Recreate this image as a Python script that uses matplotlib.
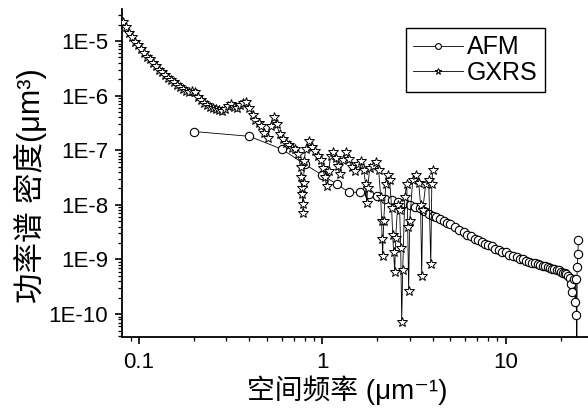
import numpy as np
import matplotlib
matplotlib.use("Agg")
import matplotlib.pyplot as plt
from matplotlib.ticker import FixedLocator, FixedFormatter, LogLocator, NullFormatter

plt.rcParams['font.family'] = ['Liberation Sans', 'DejaVu Sans', 'Noto Sans CJK SC']

# GXRS power spectrum
gxrs_f = [0.0822, 0.0852, 0.0885, 0.0919, 0.0954, 0.0991, 0.1029, 0.1069, 0.1110, 0.1153,
          0.1197, 0.1243, 0.1291, 0.1341, 0.1392, 0.1446, 0.1502, 0.1559, 0.1619, 0.1681,
          0.1746, 0.1813, 0.1883, 0.1956, 0.2031, 0.2109, 0.2190, 0.2274, 0.2361, 0.2452,
          0.2547, 0.2645, 0.2746, 0.2852, 0.2962, 0.3076, 0.3194, 0.3317, 0.3444, 0.3577,
          0.3714, 0.3857, 0.4006, 0.4160, 0.4319, 0.4486, 0.4658, 0.4837, 0.5023, 0.5216,
          0.5417, 0.5626, 0.5842, 0.6067, 0.6300, 0.6543, 0.6794, 0.7056, 0.7328,
          0.761, 0.766, 0.771, 0.776, 0.781, 0.786, 0.791, 0.797,
          0.8106, 0.8418, 0.8742, 0.9078, 0.9426, 0.9788, 1.003, 1.03, 1.056, 1.083,
          1.11, 1.138, 1.182, 1.212, 1.243, 1.291, 1.341, 1.392, 1.446, 1.502,
          1.559, 1.619, 1.681, 1.724, 1.746, 1.77, 1.815, 1.884, 1.957, 2.03,
          2.083, 2.109, 2.12, 2.135, 2.163, 2.22, 2.274, 2.332, 2.39, 2.422,
          2.45, 2.484, 2.515, 2.58, 2.645, 2.68, 2.713, 2.747, 2.82, 2.89,
          2.926, 2.96, 2.999, 3.115, 3.235, 3.359, 3.44, 3.488, 3.53, 3.67,
          3.81, 3.91, 3.96, 4.006]
gxrs_psd = [2.19e-5, 1.82e-5, 1.41e-5, 1.17e-5, 9.5e-6, 8.3e-6, 7.1e-6, 6.0e-6, 5.1e-6, 4.6e-6,
            3.9e-6, 3.5e-6, 3.0e-6, 2.7e-6, 2.4e-6, 2.1e-6, 1.95e-6, 1.74e-6, 1.58e-6, 1.45e-6,
            1.35e-6, 1.2e-6, 1.17e-6, 1.23e-6, 1.15e-6, 9.5e-7, 8.3e-7, 7.2e-7, 6.6e-7, 6.3e-7,
            6.0e-7, 5.75e-7, 5.4e-7, 5.2e-7, 5.75e-7, 6.5e-7, 6.9e-7, 6.3e-7, 6.0e-7, 6.8e-7,
            7.2e-7, 7.6e-7, 6.0e-7, 4.4e-7, 3.6e-7, 3.2e-7, 2.75e-7, 2.1e-7, 1.66e-7, 2.8e-7,
            4.0e-7, 3.0e-7, 2.0e-7, 1.58e-7, 1.38e-7, 1.26e-7, 1.12e-7, 1.05e-7, 8.7e-8,
            5.0e-8, 3.2e-8, 2.0e-8, 1.55e-8, 1.02e-8, 7.2e-9, 2.5e-8, 6.3e-8,
            1.05e-7, 1.45e-7, 1.17e-7, 9.5e-8, 7.9e-8, 6.6e-8, 4.8e-8, 3.3e-8, 2.2e-8, 4.2e-8,
            7.9e-8, 9.1e-8, 7.2e-8, 5.2e-8, 3.6e-8, 6.6e-8, 9.3e-8, 6.9e-8, 5.0e-8, 4.2e-8,
            5.5e-8, 6.3e-8, 4.4e-8, 2.4e-8, 1.1e-8, 2.0e-8, 4.8e-8, 5.2e-8, 6.0e-8, 4.4e-8,
            1.4e-8, 5.0e-9, 2.4e-9, 1.15e-9, 5.0e-9, 2.4e-8, 3.5e-8, 2.8e-8, 8.9e-9, 2.8e-9,
            1.4e-9, 6.0e-10, 2.5e-9, 1.0e-8, 7.9e-9, 1.6e-9, 7.2e-11, 6.3e-10, 1.4e-8, 2.4e-8,
            4.0e-9, 2.6e-10, 5.0e-9, 2.8e-8, 3.5e-8, 2.5e-8, 1.0e-8, 5.0e-10, 7.9e-9, 2.4e-8,
            2.8e-8, 8.3e-10, 2.4e-8, 4.4e-8]

# AFM power spectrum
afm_f = [0.2, 0.4, 0.6, 0.8, 1.0, 1.2, 1.4, 1.6, 1.8, 2.0,
         2.2, 2.4, 2.6, 2.8, 3.0, 3.2, 3.4, 3.6, 3.8, 4.0,
         4.2, 4.4, 4.6, 4.8, 5.0, 5.3, 5.6, 5.9, 6.2, 6.5,
         6.8, 7.1, 7.4, 7.7, 8.0, 8.4, 8.8, 9.2, 9.6, 10.0,
         10.5, 11.0, 11.5, 12.0, 12.5, 13.0, 13.5, 14.0, 14.5, 15.0,
         15.5, 16.0, 16.5, 17.0, 17.5, 18.0, 18.5, 19.0, 19.5, 20.0,
         20.5, 21.0, 21.5, 22.0, 22.4, 22.8, 23.2, 23.6, 24.0, 24.2,
         24.4, 24.5, 24.6, 24.8, 25.0]
afm_psd = [2.2e-7, 1.8e-7, 1.05e-7, 5.6e-8, 3.5e-8, 2.4e-8, 1.7e-8, 1.7e-8, 1.6e-8, 1.45e-8,
           1.3e-8, 1.23e-8, 1.12e-8, 1.07e-8, 1.0e-8, 9.3e-9, 8.7e-9, 7.8e-9, 6.9e-9, 6.3e-9,
           6.0e-9, 5.4e-9, 5.1e-9, 4.7e-9, 4.4e-9, 3.9e-9, 3.5e-9, 3.2e-9, 2.8e-9, 2.7e-9,
           2.4e-9, 2.3e-9, 2.05e-9, 1.95e-9, 1.82e-9, 1.74e-9, 1.58e-9, 1.5e-9, 1.38e-9, 1.35e-9,
           1.23e-9, 1.15e-9, 1.12e-9, 1.02e-9, 1.0e-9, 9.5e-10, 9.1e-10, 8.7e-10, 8.5e-10, 8.1e-10,
           7.9e-10, 7.6e-10, 7.6e-10, 7.2e-10, 7.1e-10, 6.8e-10, 6.8e-10, 6.5e-10, 6.3e-10, 6.0e-10,
           5.75e-10, 5.6e-10, 5.4e-10, 5.0e-10, 4.6e-10, 3.5e-10, 2.5e-10, 4.4e-10, 1.66e-10, 4.4e-10,
           9.5e-11, 1e-12, 7.2e-10, 1.26e-9, 2.3e-9]

x_ticks = [0.1, 1, 10]
x_labels = ['0.1', '1', '10']
y_ticks = [1e-10, 1e-9, 1e-8, 1e-7, 1e-6, 1e-5]
y_labels = ['1E-10', '1E-9', '1E-8', '1E-7', '1E-6', '1E-5']

fig = plt.figure(figsize=(5.88, 4.08), dpi=100)
ax = fig.add_axes([0.2075, 0.1748, 0.7925, 0.8032])

ax.plot(afm_f, afm_psd, color='black', lw=0.6, marker='o', ms=6,
        mfc='white', mec='black', mew=0.8, label='AFM', zorder=2)
ax.plot(gxrs_f, gxrs_psd, color='black', lw=0.6, marker='*', ms=7,
        mfc='white', mec='black', mew=0.7, label='GXRS', zorder=3)

ax.set_xscale('log')
ax.set_yscale('log')
ax.set_xlim(0.0807, 28.2)
ax.set_ylim(3.86e-11, 3.86e-5)

ax.xaxis.set_major_locator(FixedLocator(x_ticks))
ax.xaxis.set_major_formatter(FixedFormatter(x_labels))
ax.yaxis.set_major_locator(FixedLocator(y_ticks))
ax.yaxis.set_major_formatter(FixedFormatter(y_labels))
ax.xaxis.set_minor_locator(LogLocator(base=10, subs=np.arange(2, 10), numticks=20))
ax.yaxis.set_minor_locator(LogLocator(base=10, subs=np.arange(2, 10), numticks=20))
ax.xaxis.set_minor_formatter(NullFormatter())
ax.yaxis.set_minor_formatter(NullFormatter())

for s in ['top', 'right']:
    ax.spines[s].set_visible(False)
for s in ['left', 'bottom']:
    ax.spines[s].set_linewidth(1.3)

ax.tick_params(which='major', direction='out', length=5, width=1.2, labelsize=16, pad=5)
ax.tick_params(which='minor', direction='out', length=3, width=0.9)
ax.tick_params(axis='x', which='major', pad=6)

leg = ax.legend(loc='upper right', bbox_to_anchor=(545 / 588, 1 - 28 / 408),
                bbox_transform=fig.transFigure, borderaxespad=0, fontsize=18,
                frameon=True, fancybox=False, edgecolor='black', framealpha=1,
                handlelength=2.0, handletextpad=0.15, labelspacing=0.05,
                borderpad=0.3, markerscale=0.7)
leg.get_frame().set_linewidth(1.0)

fig.text(30 / 588, 1 - 186 / 408, '功率谱 密度(μm³)', rotation=90,
         ha='center', va='center', fontsize=22)
fig.text(347 / 588, 1 - 390 / 408, '空间频率 (μm⁻¹)',
         ha='center', va='center', fontsize=20)

fig.savefig('out.png', dpi=100)
